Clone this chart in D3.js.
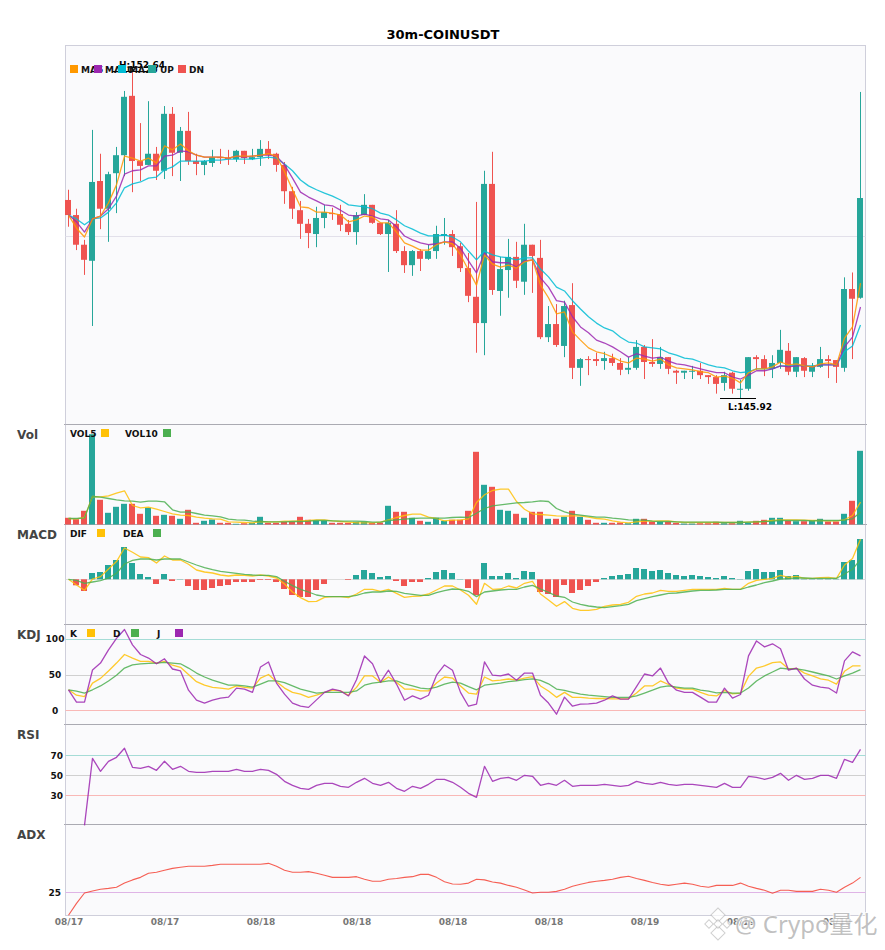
<!DOCTYPE html>
<html>
<head>
<meta charset="utf-8">
<style>
    html, body { margin: 0; padding: 0; background: #fff; }
    text { font-family: 'DejaVu Sans', sans-serif; }
</style>
<script src="https://cdn.jsdelivr.net/npm/d3@7/dist/d3.min.js"></script>
</head>
<body>
<div id="chart"></div>
<script>
// values
const tickLabels = ['08/17', '08/17', '08/18', '08/18', '08/18', '08/18', '08/19', '08/19', '08/19'];

const opens = [150.00,149.69,149.08,148.75,150.39,149.82,150.55,150.92,152.14,150.80,150.72,150.95,150.60,151.77,150.97,151.42,150.80,150.72,150.76,150.88,
    150.86,150.84,151.01,150.84,150.88,151.05,150.95,150.72,150.18,149.79,149.51,149.30,149.63,149.73,149.71,149.51,149.34,149.69,149.90,149.53,
    149.30,149.51,148.95,148.66,148.95,148.79,148.95,149.26,149.30,149.05,148.60,148.01,147.47,150.33,148.13,148.56,148.83,148.32,149.08,148.81,
    147.18,147.45,147.00,147.84,146.55,146.73,146.73,146.69,146.75,146.65,146.51,146.55,146.98,146.67,146.63,146.77,146.49,146.45,146.47,146.49,
    146.40,146.36,146.24,146.45,146.10,146.12,146.77,146.73,146.53,146.65,146.90,146.47,146.75,146.47,146.57,146.73,146.71,146.55,148.17,147.99];
const closes = [149.69,149.08,148.77,150.37,149.82,150.53,150.92,152.12,150.80,150.70,150.95,150.60,151.77,150.97,151.42,150.80,150.74,150.80,150.88,150.86,
    150.84,151.01,150.86,150.88,151.05,150.92,150.72,150.18,149.82,149.51,149.32,149.63,149.75,149.71,149.49,149.34,149.69,149.90,149.53,149.30,
    149.53,148.95,148.66,148.95,148.79,148.95,149.30,149.30,149.03,148.60,148.03,147.47,150.33,148.15,148.58,148.83,148.34,149.08,148.85,147.18,
    147.45,147.02,147.82,146.55,146.73,146.71,146.69,146.75,146.65,146.51,146.55,146.98,146.67,146.63,146.77,146.53,146.45,146.49,146.49,146.40,
    146.36,146.22,146.40,146.12,146.12,146.77,146.73,146.53,146.65,146.92,146.47,146.77,146.49,146.59,146.73,146.69,146.57,148.17,147.97,150.04];
const highs = [150.21,149.82,149.18,151.44,150.95,150.58,151.09,152.24,152.64,151.58,152.03,151.09,151.93,151.91,151.50,151.81,150.95,150.82,151.03,151.05,
    151.03,151.03,151.01,151.05,151.23,151.21,150.97,150.78,150.27,149.98,149.61,149.86,149.90,149.84,149.90,149.59,149.75,150.12,149.90,149.53,
    149.59,149.79,149.05,148.97,148.99,149.08,149.47,149.63,149.38,149.12,148.91,149.96,150.60,150.99,148.83,149.20,149.14,149.51,149.08,149.18,
    147.82,147.86,147.93,148.29,146.75,146.79,146.86,146.88,146.84,146.75,146.77,147.12,147.02,147.14,146.98,146.77,146.51,146.49,146.59,146.65,
    146.40,146.40,146.47,146.47,146.30,146.77,146.81,146.81,146.81,147.33,147.06,146.77,146.77,146.65,146.98,146.81,146.71,148.41,148.51,152.22];
const lows = [149.45,148.97,148.46,147.41,149.40,149.14,149.73,150.49,150.16,150.39,150.72,150.41,150.43,150.49,150.39,150.72,150.51,150.51,150.68,150.74,
    150.72,150.78,150.74,150.82,150.70,150.84,150.58,149.92,149.61,149.20,149.01,149.03,149.42,149.59,149.36,149.28,149.08,149.69,149.51,149.28,
    148.52,148.91,148.50,148.44,148.54,148.77,148.79,149.08,148.85,148.52,147.90,146.86,146.81,148.05,147.62,147.99,148.19,148.05,148.09,147.14,
    147.08,146.98,146.77,146.32,146.18,146.40,146.59,146.51,146.59,146.40,146.42,146.51,146.32,146.57,146.53,146.42,146.22,146.32,146.32,146.32,
    146.22,146.02,146.08,146.02,145.92,146.08,146.51,146.38,146.34,146.53,146.40,146.36,146.36,146.36,146.55,146.34,146.24,146.47,146.73,147.97];

const ma5 = [149.69,149.42,149.24,149.61,149.67,149.94,150.31,150.90,150.86,150.80,150.86,150.76,151.11,151.03,151.15,151.01,150.92,150.88,150.88,150.88,
    150.86,150.90,150.90,150.90,150.92,150.95,150.90,150.58,150.21,149.86,149.84,149.75,149.75,149.73,149.69,149.55,149.59,149.67,149.65,149.53,
    149.53,149.34,149.12,149.05,148.97,148.97,149.08,149.14,149.10,148.87,148.56,148.25,148.87,148.68,148.62,148.66,148.60,148.73,148.77,148.25,
    147.99,147.66,147.70,147.29,147.12,146.96,146.88,146.84,146.77,146.69,146.65,146.75,146.73,146.69,146.73,146.61,146.55,146.53,146.51,146.47,
    146.45,146.36,146.38,146.34,146.24,146.45,146.53,146.53,146.57,146.67,146.61,146.63,146.59,146.57,146.63,146.65,146.61,147.16,147.39,148.29];
const ma10 = [149.69,149.55,149.34,149.61,149.67,149.82,150.08,150.53,150.60,150.62,150.70,150.70,150.90,150.92,151.01,150.99,150.92,150.88,150.88,150.88,
    150.86,150.90,150.88,150.90,150.92,150.92,150.90,150.72,150.45,150.16,150.06,149.98,149.90,149.88,149.79,149.69,149.67,149.71,149.67,149.61,
    149.59,149.45,149.26,149.18,149.12,149.08,149.10,149.14,149.14,149.01,148.75,148.50,148.91,148.73,148.71,148.71,148.62,148.75,148.77,148.40,
    148.21,147.93,147.90,147.60,147.39,147.27,147.12,147.06,146.98,146.88,146.77,146.84,146.79,146.75,146.77,146.69,146.63,146.61,146.57,146.53,
    146.49,146.45,146.45,146.36,146.32,146.40,146.49,146.49,146.53,146.59,146.57,146.59,146.59,146.57,146.61,146.61,146.61,146.98,147.18,147.80];
const ma20 = [149.69,149.61,149.49,149.61,149.63,149.75,149.94,150.25,150.33,150.37,150.45,150.47,150.62,150.68,150.80,150.80,150.80,150.80,150.82,150.82,
    150.84,150.84,150.84,150.84,150.86,150.88,150.86,150.74,150.60,150.41,150.29,150.21,150.14,150.08,150.00,149.90,149.88,149.86,149.82,149.73,
    149.69,149.59,149.47,149.40,149.32,149.26,149.26,149.28,149.24,149.14,148.95,148.77,148.95,148.87,148.83,148.81,148.77,148.81,148.81,148.58,
    148.42,148.21,148.13,147.93,147.76,147.60,147.47,147.37,147.31,147.18,147.08,147.06,146.98,146.96,146.94,146.86,146.81,146.75,146.73,146.67,
    146.61,146.57,146.55,146.49,146.45,146.47,146.53,146.53,146.53,146.59,146.59,146.61,146.59,146.59,146.61,146.61,146.61,146.88,147.00,147.43];

const volumes = [6.7,5.3,13.7,90.3,24.7,11.7,17.7,20.7,20.7,10.7,16.7,8.7,9.7,8.7,5.7,14.7,1.7,3.7,5,1.7,
    1.7,0.7,1.3,1.7,7.7,1.7,1.7,2.7,2.7,7.7,4.7,3.7,3.7,1.7,1.7,1.7,2.7,2.7,1.7,2,
    18.7,12.7,12.7,6.7,3.7,2.7,6.7,3.7,4.7,4.7,13.7,72.7,39.7,37.7,14.7,13.7,10.7,6.7,12.7,12.7,
    5.7,5.7,7.7,13.7,7.7,4.7,1.7,1.7,1.7,2,1.3,5.7,5.7,3,2.7,2.7,1.7,1,1,1.3,
    1.3,2.7,1.3,1.3,3.7,2,3.7,4.7,6.7,6.7,3.7,3.3,3.3,3.7,5.7,3,3,10.7,23.7,73.7];
const vol5 = [6,5.7,7,28,27.7,28.7,31.3,33.7,19,16.7,17.3,15.3,13,10.7,9.3,9,7.3,6.3,5.7,5.3,
    2.7,2.3,2,1.7,3,2.7,2.7,3.3,3.3,3.7,4,4.7,4.7,3.7,3,2.3,1.7,1.7,1.7,2.3,
    4.7,7,9,10.3,10.3,7.3,6,3.7,4.3,4.7,5.7,22,29.7,34,35.3,35.3,23,15.3,10.7,10,
    9.3,8.7,8.3,8.7,8.7,7.3,6,5.3,3.7,2.3,1.7,2.7,3.3,3.3,3.7,3.7,2.7,2,2,2,
    2,2,2,2,2,2.3,2.7,3,4,4.7,4.7,4.7,4.3,4,4,3.7,3.7,4.7,9,22.3];
const vol10 = [6,6,6.7,28,27.3,26,24.7,23.7,23.3,22.3,23.3,23.3,22.7,14.7,12.3,12.7,11,9.3,8.7,7.7,
    5.3,4.7,4.3,3.3,3,2.7,2.7,2.7,3,3,3.3,4,4,3.7,3.3,3.3,3.3,3,2.3,2.3,
    4,4.7,5.3,6,6.3,6.3,6.3,6.3,7,7.3,7,11.3,16,18.7,19.7,20.7,21.7,22,22.7,23.7,
    23,16,12.7,10.3,9.3,8.3,7.3,7.3,6.3,5.7,4.7,4.3,4.3,3.3,3,3,2.7,2.3,2.3,2.3,
    2.3,2.3,2,2,2,2.3,2.7,3,3.3,4,4,4,4,3.7,4,4,4,4.3,5.7,12.3];

const macdHist = [0,-6,-11.7,6.3,7.3,14.3,19.3,32.3,16.3,5.3,2.3,-4.7,5.3,-1.7,0.3,-6.7,-10.7,-10.7,-8.7,-6.7,
    -5.7,-2.7,-2.7,-2.7,-0.7,-0.7,-2.7,-9.7,-15.7,-17.7,-17.7,-10.7,-4.7,0,0,-0.7,4.3,9.3,6.3,2.3,
    3.3,-1.7,-6.7,-2.7,-2.7,1.3,7.3,9.3,6.3,0.3,-8.7,-15.7,16.3,3.3,3.3,6.3,1.3,8.3,7.3,-12.7,
    -14.7,-17.7,-5.7,-13.7,-10.7,-6.7,-2.7,1.3,3.3,4.3,5.3,11.3,10.3,8.3,9.3,6.3,4.3,3.3,4.3,3.3,
    2.3,1.3,3.3,1.3,0.3,8.3,10.3,7.3,7.3,9.3,3.3,4.3,0.5,0.5,0.5,0.5,0.5,17.3,19.3,40.3];
const dif = [0,-5.7,-11,0.3,2.7,10.3,17.7,31.3,27,22.3,21.7,16.3,23.3,19.3,19.3,15,9.3,7.3,6.3,4.3,
    3.3,4.3,4,3.3,4.3,3.3,1.3,-4.7,-12.7,-18.3,-22.3,-22,-18,-17.3,-17.3,-18.3,-14.7,-10,-10,-12,
    -10,-14,-18,-17,-16.7,-14.7,-10.7,-6.7,-6.7,-10.7,-16,-25,-4,-10,-9.7,-6.7,-8.7,-4,-2,-14.7,
    -20.7,-27,-22.3,-29,-31,-31,-30,-27,-25.7,-25,-23,-17,-14.7,-13.7,-11,-12,-12,-11,-10,-10,
    -10,-10,-9,-10,-10,-4,-1,0,1,4,2,3,1,1,1.7,2,1,14.3,20.7,40];
const dea = [0,-1,-4,-2.7,-1.3,1.3,6,15.3,19,20.3,20.3,19.3,20.3,20.3,20.3,17.3,14.3,11.7,9.7,8,
    7,6,5,4.3,4,4,2.7,-2,-6.3,-10,-12.7,-15.7,-17,-17.3,-17.3,-17.3,-16,-13.7,-12.7,-12.7,
    -11.7,-12,-14,-15,-16,-16,-13.3,-11.3,-9.7,-10,-12,-17.3,-12.7,-11.7,-10.7,-10,-10,-7.7,-6,-9.7,
    -13,-16.7,-18,-22.7,-25,-26.7,-27.7,-28.3,-27.3,-26.3,-25,-21.3,-19.3,-17.3,-15.7,-14,-13.7,-12.7,-11.7,-11,
    -11,-10.7,-10,-10,-10,-7.7,-5.7,-3.3,-1.7,0.3,0.7,1.3,1.3,1,1,1,1,5.3,10,20];

const kdjK = [28.6,21,19,38,44.6,55,66,78,73,68.5,68.5,66,68.5,63,60,50,40,35,32,31,
    29.6,34,32,31,45,50,40,31,25,22.5,18,21,25,28,27,21,32,48,48,39,
    46.5,39,29.6,29.6,27,27,38,46.5,45,34,24,22.5,46.5,41,42,43.7,42,45,47,34,
    27,18,25,18,18,17,16.4,16.4,16,16,16,24,34,34,41,36,31,29.6,29.6,25,
    21,20,27.7,23,24,47.4,59,62,66.7,67.6,58,58.7,52,48,44,42,36.6,54.5,62,62];
const kdjD = [28.6,26.8,24,28.6,34,41,49,59,63.4,65,65.7,66,67,66,65,59,52,46.5,42,38.5,
    35,35,34,32.4,36.6,41,41,38.5,34,29.6,26.8,24,25,25,25,25,27,35,38,39.4,
    41,41,37,34,31,30,32.4,36.6,39.4,38,33,28.6,35,36.6,38,40,41,42.7,44,41.8,
    37,29.6,27.7,25,22.5,21,20,19,18,18,18,20,24,28,32.4,34,32.4,31,31,28,
    26.8,24.4,25,24,24,31,41,48,53.5,59,57.7,58,56,53.5,50.7,48,43.7,48,52,56.8];
const kdjJ = [28.6,11.3,11.3,56.3,66,84.5,100.5,113,91.5,78,73,65,72,57.7,55,28,14,10,14,17,
    18.3,31,29.6,25,60.6,67.6,38,22.5,10,5.6,4,14.5,25,29.6,27,20,42.7,76,65,39.4,
    56,36.6,14,20,15.5,21,49,63.4,56,25,5.6,8.5,67.6,49,48,50.7,42,52,52,21,
    10,-5.6,18.3,5.6,8.5,9,10,14,20,15.5,15.5,33,50.7,48,59,38,28,25,25,18.3,
    11.3,11.3,31,17,22,76,97,88.7,93,86,56,59,43.7,35,32.4,31,24,69,81.7,76];

const rsi = [null,null,0,67,54,64,68,77,58,57,59,55,64,56,59,54,53,53,54,54,
    54,56,54,54,56,55,51,44,40,37,36,40,42,42,39,38,43,47,42,40,
    43,37,34,39,37,41,46,46,43,38,32,28,59,44,47,48,45,50,49,40,
    42,40,45,39,40,40,40,41,40,39,40,44,42,41,43,41,40,41,41,40,
    39,38,42,38,38,49,48,46,48,52,45,50,46,47,50,50,47,66,63,76];

const adx = [15,20.2,24.7,25.6,26.3,26.7,27.2,29,30.4,31.5,33.3,33.7,34.6,35.4,35.9,36.3,36.3,36.3,36.7,37.2,
    37.2,37.2,37.2,37.2,37.2,37.6,36.3,34.6,33.7,33.7,34,33.3,32.4,31.5,31.5,31.5,31.8,30.7,29.8,29.8,
    30.7,31,31.5,31.8,32.8,32.8,31.5,29.6,28.6,28.5,29,30.7,30.4,29.5,29,28,27.2,26,24.7,25,
    25,25.4,26.3,27.6,28.5,29.3,29.8,30.2,30.7,31.5,32,31,30.2,29.3,28.5,28,28.5,29,28.5,27.6,
    27.2,28,28,28,29,27.6,26.7,25.9,24.6,25.9,25.9,25.4,25.4,25.4,26.3,25.9,25,27.2,29,31.5];

const upColor = '#26a69a';
const downColor = '#ef5350';
const width = 885;
const height = 950;
const left = 65.5;
const right = 865.5;

const svg = d3.select('#chart')
    .append('svg')
    .attr('width', width)
    .attr('height', height)
    .style('display', 'block');

const x = d3.scaleBand()
    .domain(d3.range(closes.length))
    .range([64, 864])
    .paddingInner(0.25)
    .paddingOuter(0.125);
const cx = (i) => x(i) + x.bandwidth() / 2 + 0.5;

let yPrice = d3.scaleLinear().domain([145.92, 152.64]).range([398.5, 71.5]);
let yVol = d3.scaleLinear().domain([0, 90.3]).range([524.5, 434.2]);
let yMacd = d3.scaleLinear().domain([-45.2, 54.8]).range([624.5, 524.5]);
let yKdj = d3.scaleLinear().domain([-20, 120]).range([724.5, 624.5]);
let yRsi = d3.scaleLinear().domain([0, 100]).range([825.3, 725.3]);
let yAdx = d3.scaleLinear().domain([15, 54.4]).range([915.3, 824.7]);

// panel backgrounds
svg.append('rect')
    .attr('x', left).attr('y', 45.5)
    .attr('width', right - left).attr('height', 870)
    .attr('fill', '#fafafc')
    .attr('stroke', '#cfcfdb');

[424.5, 524.5, 624.5, 724.5, 824.5].forEach((py) => {
    svg.append('line')
        .attr('x1', left).attr('x2', right)
        .attr('y1', py).attr('y2', py)
        .attr('stroke', '#aaaab2');
    svg.append('line').attr('x1', left - 1.5).attr('x2', left).attr('y1', py).attr('y2', py).attr('stroke', '#aaaab2');
    svg.append('line').attr('x1', right).attr('x2', right + 1.5).attr('y1', py).attr('y2', py).attr('stroke', '#aaaab2');
});

// reference lines
function refLine(scale, value, color) {
    svg.append('line')
        .attr('x1', left).attr('x2', right)
        .attr('y1', Math.round(scale(value)) + 0.5).attr('y2', Math.round(scale(value)) + 0.5)
        .attr('stroke', color);
}
refLine(yPrice, 149.25, '#e2e0ea');
refLine(yMacd, 0, '#dddddd');
refLine(yKdj, 100, '#a5dcd6');
refLine(yKdj, 50, '#d0d0d0');
refLine(yKdj, 0, '#f9b8b6');
refLine(yRsi, 70, '#a5dcd6');
refLine(yRsi, 50, '#d0d0d0');
refLine(yRsi, 30, '#f9b8b6');
refLine(yAdx, 25, '#dfb4e6');

function drawLine(values, scale, color, lineWidth = 1.3) {
    let line = d3.line()
        .defined((d) => d !== null)
        .x((d, i) => cx(i))
        .y((d) => scale(d));
    svg.append('path')
        .datum(values)
        .attr('fill', 'none')
        .attr('stroke', color)
        .attr('stroke-width', lineWidth)
        .attr('stroke-opacity', 0.85)
        .attr('stroke-linejoin', 'round')
        .attr('d', line);
}

function isUp(i) {
    return closes[i] >= opens[i];
}
const barColor = (i) => isUp(i) ? upColor : downColor;

// candles
let candles = svg.append('g')
    .selectAll('g')
    .data(d3.range(closes.length))
    .enter()
    .append('g');

candles.append('line')
    .attr('x1', (i) => cx(i))
    .attr('x2', (i) => cx(i))
    .attr('y1', (i) => yPrice(highs[i]))
    .attr('y2', (i) => yPrice(lows[i]))
    .attr('stroke', barColor);

candles.append('rect')
    .attr('x', (i) => x(i))
    .attr('width', x.bandwidth())
    .attr('y', (i) => yPrice(Math.max(opens[i], closes[i])))
    .attr('height', (i) => Math.max(1, Math.abs(yPrice(opens[i]) - yPrice(closes[i]))))
    .attr('fill', barColor);

drawLine(ma20, yPrice, '#00bcd4');
drawLine(ma10, yPrice, '#9c27b0');
drawLine(ma5, yPrice, '#ff9800');

// high / low markers
function marker(value, x1, x2, textX, textY, label) {
    svg.append('line')
        .attr('x1', x1).attr('x2', x2)
        .attr('y1', yPrice(value)).attr('y2', yPrice(value))
        .attr('stroke', '#000');
    svg.append('text')
        .attr('x', textX).attr('y', textY)
        .attr('text-anchor', 'middle')
        .attr('font-size', 9)
        .attr('font-weight', 'bold')
        .text(label);
}
marker(d3.max(highs), 112, 148, 142, 68, 'H:152.64');
marker(d3.min(lows), 720, 756, 750, 410, 'L:145.92');

// volume
svg.append('g')
    .selectAll('rect')
    .data(volumes)
    .enter()
    .append('rect')
    .attr('x', (d, i) => x(i))
    .attr('width', x.bandwidth())
    .attr('y', (d) => yVol(d))
    .attr('height', (d) => yVol(0) - yVol(d))
    .attr('fill', (d, i) => barColor(i));
drawLine(vol5, yVol, '#ffc107');
drawLine(vol10, yVol, '#4caf50');

// macd
svg.append('g')
    .selectAll('rect')
    .data(macdHist)
    .enter()
    .append('rect')
    .attr('x', (d, i) => x(i))
    .attr('width', x.bandwidth())
    .attr('y', (d) => yMacd(Math.max(0, d)))
    .attr('height', (d) => Math.abs(yMacd(d) - yMacd(0)))
    .attr('fill', (d) => d >= 0 ? upColor : downColor);
drawLine(dif, yMacd, '#ffc107');
drawLine(dea, yMacd, '#4caf50');

drawLine(kdjK, yKdj, '#ffc107');
drawLine(kdjD, yKdj, '#4caf50');
drawLine(kdjJ, yKdj, '#9c27b0');
drawLine(rsi, yRsi, '#9c27b0');
drawLine(adx, yAdx, '#f44336', 1.1);

// legends: the swatch goes on top of the text, like in the original
function legend(items, textY, swatchY) {
    items.forEach((it) => svg.append('text')
        .attr('x', it.tx).attr('y', textY)
        .attr('font-size', 9)
        .attr('font-weight', 'bold')
        .attr('fill', '#111')
        .text(it.name));
    items.forEach((it) => svg.append('rect')
        .attr('x', it.sx).attr('y', swatchY)
        .attr('width', 8).attr('height', 8)
        .attr('fill', it.color));
}
legend([
    { name: 'MA5', tx: 81, sx: 70, color: '#ff9800' },
    { name: 'MA10', tx: 105, sx: 94, color: '#9c27b0' },
    { name: 'MA20', tx: 129, sx: 118, color: '#00bcd4' },
    { name: 'UP', tx: 160, sx: 148, color: upColor },
    { name: 'DN', tx: 189, sx: 178, color: downColor }
], 72.5, 65);
legend([
    { name: 'VOL5', tx: 70, sx: 101, color: '#ffc107' },
    { name: 'VOL10', tx: 125, sx: 163, color: '#4caf50' }
], 437, 429);
legend([
    { name: 'DIF', tx: 70, sx: 97, color: '#ffc107' },
    { name: 'DEA', tx: 123, sx: 153, color: '#4caf50' }
], 537, 529);
legend([
    { name: 'K', tx: 70, sx: 87, color: '#ffc107' },
    { name: 'D', tx: 113, sx: 131, color: '#4caf50' },
    { name: 'J', tx: 157, sx: 175, color: '#9c27b0' }
], 637, 629);

// panel names
[['Vol', 439], ['MACD', 539], ['KDJ', 639], ['RSI', 739], ['ADX', 839]].forEach((p) => {
    svg.append('text')
        .attr('x', 17).attr('y', p[1])
        .attr('font-size', 12)
        .attr('font-weight', 'bold')
        .attr('fill', '#444')
        .text(p[0]);
});

svg.append('text')
    .attr('x', 443).attr('y', 39)
    .attr('text-anchor', 'middle')
    .attr('font-size', 13)
    .attr('font-weight', 'bold')
    .text('30m-COINUSDT');

// y axes
function yAxis(scale, ticks, labelX, anchor) {
    let g = svg.append('g')
        .attr('transform', `translate(${labelX},0)`)
        .call(d3.axisLeft(scale).tickValues(ticks).tickSize(0).tickPadding(0));
    g.select('.domain').remove();
    g.selectAll('text')
        .attr('font-family', 'DejaVu Sans')
        .attr('font-size', 9)
        .attr('font-weight', 'bold')
        .attr('text-anchor', anchor)
        .attr('x', 0)
        .attr('fill', '#111');
}
yAxis(yKdj, [0, 50, 100], 55, 'middle');
yAxis(yRsi, [30, 50, 70], 63, 'end');
yAxis(yAdx, [25], 61, 'end');

// x axis
let xAxis = d3.axisBottom(x)
    .tickValues(d3.range(0, closes.length, 12))
    .tickFormat((d, i) => tickLabels[i])
    .tickSize(0)
    .tickPadding(0);
let xg = svg.append('g')
    .attr('transform', 'translate(1,918.5)')
    .call(xAxis);
xg.select('.domain').remove();
xg.selectAll('text')
    .attr('font-family', 'DejaVu Sans')
    .attr('font-size', 9)
    .attr('font-weight', 'bold')
    .attr('fill', '#777');

// watermark
let mark = svg.append('g').attr('transform', 'translate(718,924)');
[[0, -9, 5], [-9, 0, 3], [9, 0, 3], [0, 9, 5], [0, 0, 3]].forEach((m) => {
    mark.append('rect')
        .attr('x', m[0] - m[2]).attr('y', m[1] - m[2])
        .attr('width', m[2] * 2).attr('height', m[2] * 2)
        .attr('transform', `rotate(45 ${m[0]} ${m[1]})`)
        .attr('fill', 'rgba(255,255,255,0.7)')
        .attr('stroke', 'rgba(170,170,170,0.55)');
});
svg.append('text')
    .attr('x', 735).attr('y', 933)
    .attr('font-size', 24)
    .style('font-family', "'Noto Sans', 'Noto Sans CJK SC', sans-serif")
    .attr('fill', 'rgba(140,140,140,0.55)')
    .attr('stroke', 'rgba(255,255,255,0.8)')
    .attr('stroke-width', 2)
    .attr('paint-order', 'stroke')
    .text('@ Crypo量化');
</script>
</body>
</html>
